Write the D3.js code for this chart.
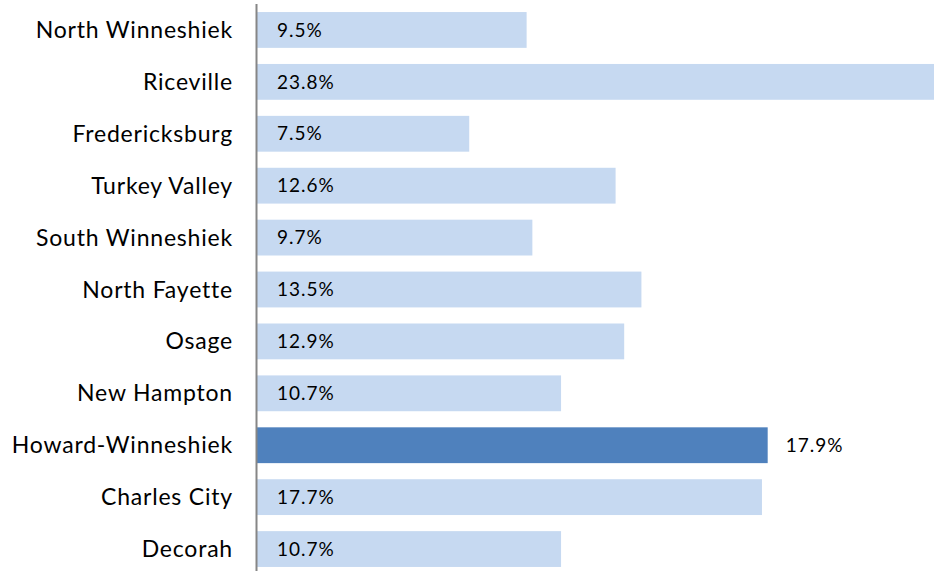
<!DOCTYPE html>
<html>
<head>
<meta charset="utf-8">
<script src="https://cdn.jsdelivr.net/npm/d3@7"></script>
<style>
  body { margin: 0; background: #fff; }
  text { font-family: Lato, "Open Sans", sans-serif; fill: #000; }
</style>
</head>
<body>
<div id="chart"></div>
<script>
const districts = ['North Winneshiek', 'Riceville', 'Fredericksburg', 'Turkey Valley', 'South Winneshiek',
  'North Fayette', 'Osage', 'New Hampton', 'Howard-Winneshiek', 'Charles City', 'Decorah'];
const rates = [9.5, 23.8, 7.5, 12.6, 9.7, 13.5, 12.9, 10.7, 17.9, 17.7, 10.7];
const highlight = 'Howard-Winneshiek';

const data = districts.map((d, i) => ({name: d, value: rates[i]}));

const width = 934, height = 571;
const left = 257;

const svg = d3.select('#chart').append('svg')
  .attr('width', width)
  .attr('height', height);

const x = d3.scaleLinear().domain([0, 23.8]).range([254, 937]);
const y = d3.scaleBand().domain(districts).range([4, 575]).paddingInner(0.31).paddingOuter(0.155);

svg.selectAll('.bar')
  .data(data)
  .enter().append('rect')
  .attr('class', 'bar')
  .attr('x', left)
  .attr('y', d => y(d.name))
  .attr('width', d => x(d.value) - left)
  .attr('height', y.bandwidth())
  .style('fill', d => d.name === highlight ? '#4f81bd' : '#c6d9f1');

// category labels
svg.selectAll('.cat')
  .data(data)
  .enter().append('text')
  .attr('class', 'cat')
  .attr('x', left - 24)
  .attr('y', d => y(d.name) + y.bandwidth() / 2)
  .attr('dy', '0.35em')
  .attr('text-anchor', 'end')
  .style('font-size', '23px')
  .style('letter-spacing', '0.8px')
  .text(d => d.name);

// value labels
svg.selectAll('.val')
  .data(data)
  .enter().append('text')
  .attr('class', 'val')
  .attr('x', d => d.name === highlight ? x(d.value) + 18 : left + 20)
  .attr('y', d => y(d.name) + y.bandwidth() / 2)
  .attr('dy', '0.35em')
  .style('font-size', '19px')
  .style('letter-spacing', '1px')
  .text(d => d.value.toFixed(1) + '%');

// axis line
svg.append('line')
  .attr('x1', left - 0.5).attr('x2', left - 0.5)
  .attr('y1', 4).attr('y2', height)
  .style('stroke', '#868686')
  .style('stroke-width', 2);
</script>
</body>
</html>
